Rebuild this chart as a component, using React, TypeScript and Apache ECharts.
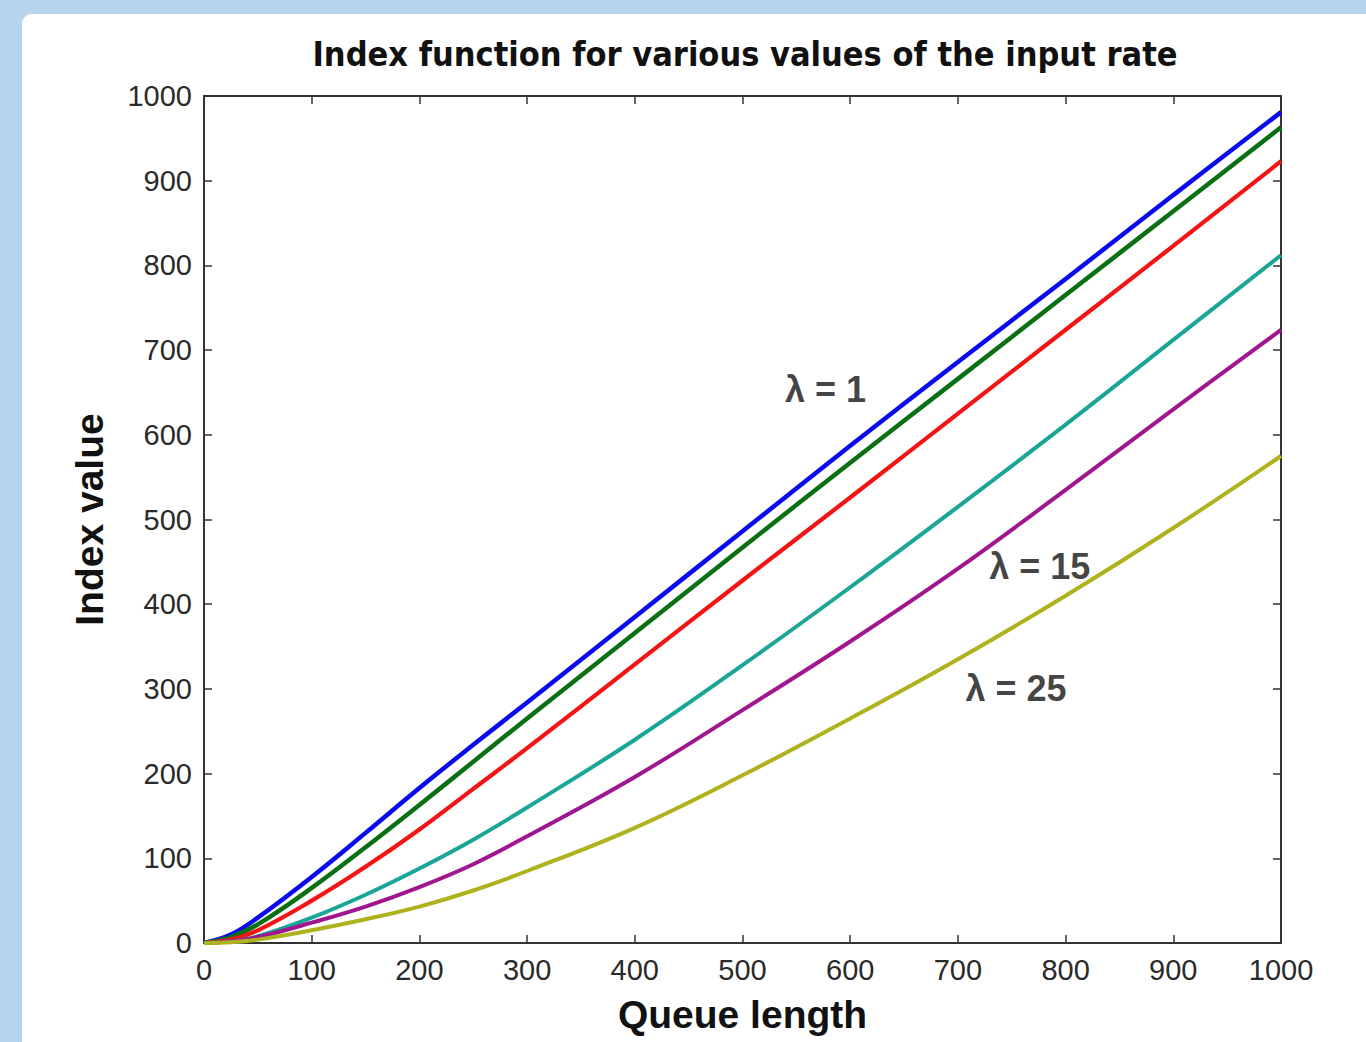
import React, { useEffect, useRef } from "react";
import * as echarts from "echarts";

const titleText = "Index function for various values of the input rate";
const xName = "Queue length";
const yName = "Index value";

const queueLength = [0, 25, 50, 100, 150, 200, 250, 300, 400, 500, 600, 700, 800, 900, 1000];

const blueVals = [0, 10, 30, 78, 130, 183, 234, 284, 385, 486, 587, 686, 784, 883, 981];
const greenVals = [0, 7, 22, 65, 113, 163, 214, 265, 366, 467, 567, 666, 765, 864, 963];
const redVals = [0, 4, 15, 50, 90, 134, 182, 230, 329, 428, 526, 625, 724, 823, 923];
const tealVals = [0, 2, 8, 30, 57, 88, 122, 160, 240, 328, 420, 515, 612, 712, 812];
const purpleVals = [0, 2, 7, 24, 43, 66, 93, 126, 196, 275, 356, 442, 535, 630, 724];
const oliveVals = [0, 1, 4, 15, 28, 43, 62, 85, 136, 198, 265, 335, 410, 490, 575];

const seriesDefs = [
  { name: "s1", values: blueVals, color: "#0a0af0", width: 4.5 },
  { name: "s2", values: greenVals, color: "#0b6f14", width: 4.5 },
  { name: "s3", values: redVals, color: "#f51313", width: 4.2 },
  { name: "s4", values: tealVals, color: "#19a697", width: 4 },
  { name: "s5", values: purpleVals, color: "#a0168f", width: 4 },
  { name: "s6", values: oliveVals, color: "#aeb21c", width: 4 },
];

const annotations = [
  { text: "λ = 1", x: 577, y: 653 },
  { text: "λ = 15", x: 776, y: 444 },
  { text: "λ = 25", x: 754, y: 301 },
];

const labelFont = "'Liberation Sans', Arial, sans-serif";

export default function App() {
  const ref = useRef<HTMLDivElement>(null);
  useEffect(() => {
    if (!ref.current) return;
    const chart = echarts.init(ref.current, undefined, { renderer: "svg" });
    const axisLine = { show: true, onZero: false, lineStyle: { color: "#333", width: 2 } };
    const axisTick = { show: true, inside: true, length: 8, lineStyle: { color: "#333", width: 1.5 } };
    const axisLabel = {
      color: "#2a2a2a",
      fontSize: 29,
      fontFamily: labelFont,
      margin: 12,
      formatter: (v: number) => String(v),
    };
    const option: any = {
      animation: false,
      backgroundColor: "#ffffff",
      title: {
        text: titleText,
        left: 718,
        top: 18,
        textAlign: "center",
        textStyle: {
          fontFamily: "'DejaVu Sans Condensed', 'DejaVu Sans', sans-serif",
          fontWeight: "bold",
          fontSize: 34,
          color: "#111",
        },
      },
      grid: { left: 182, top: 82, width: 1077, height: 847, containLabel: false },
      xAxis: [
        {
          type: "value",
          position: "bottom",
          min: 0,
          max: 1000,
          interval: 100,
          axisLine,
          axisTick,
          axisLabel,
          splitLine: { show: false },
          name: xName,
          nameLocation: "middle",
          nameGap: 52,
          nameTextStyle: { fontFamily: "'Liberation Sans', Arial, sans-serif", fontWeight: "bold", fontSize: 39, color: "#111" },
        },
        {
          type: "value",
          position: "top",
          min: 0,
          max: 1000,
          interval: 100,
          axisLine,
          axisTick,
          axisLabel: { show: false },
          splitLine: { show: false },
        },
      ],
      yAxis: [
        {
          type: "value",
          position: "left",
          min: 0,
          max: 1000,
          interval: 100,
          axisLine,
          axisTick,
          axisLabel,
          splitLine: { show: false },
          name: yName,
          nameLocation: "middle",
          nameGap: 95,
          nameTextStyle: { fontFamily: "'Liberation Sans', Arial, sans-serif", fontWeight: "bold", fontSize: 39, color: "#111" },
        },
        {
          type: "value",
          position: "right",
          min: 0,
          max: 1000,
          interval: 100,
          axisLine,
          axisTick,
          axisLabel: { show: false },
          splitLine: { show: false },
        },
      ],
      series: [
        ...seriesDefs.map((s) => ({
          type: "line",
          name: s.name,
          xAxisIndex: 0,
          yAxisIndex: 0,
          data: queueLength.map((q, i) => [q, s.values[i]]),
          showSymbol: false,
          smooth: 0.4,
          lineStyle: { color: s.color, width: s.width },
          itemStyle: { color: s.color },
        })),
        {
          type: "scatter",
          xAxisIndex: 0,
          yAxisIndex: 0,
          symbolSize: 0,
          data: annotations.map((a) => ({
            value: [a.x, a.y],
            label: {
              show: true,
              formatter: a.text,
              position: "inside",
              fontFamily: "'Liberation Sans', Arial, sans-serif",
              fontWeight: "bold",
              fontSize: 36,
              color: "#111",
            },
          })),
          z: 10,
        },
      ],
    };
    chart.setOption(option);
    return () => chart.dispose();
  }, []);
  return (
    <div style={{ position: "absolute", left: 0, top: 0, width: 1366, height: 1042, background: "#b6d4ec", overflow: "hidden" }}>
      <div
        style={{
          position: "absolute",
          left: 22,
          top: 14,
          width: 1344,
          height: 1028,
          background: "#ffffff",
          borderTopLeftRadius: 10,
          overflow: "hidden",
        }}
      >
        <div ref={ref} style={{ width: 1344, height: 1028 }} />
      </div>
    </div>
  );
}
